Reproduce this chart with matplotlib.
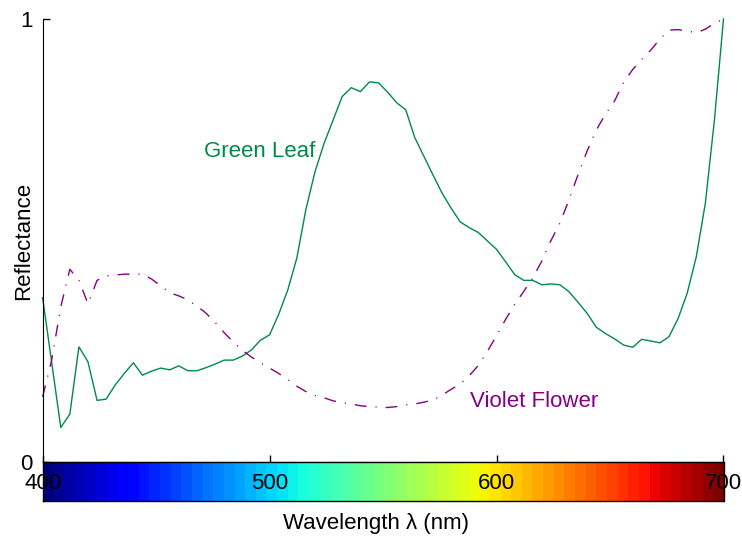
import matplotlib
matplotlib.use('Agg')
import matplotlib.pyplot as plt
import matplotlib.transforms as mtransforms
import numpy as np

plt.rcParams['font.family'] = ['Liberation Sans', 'DejaVu Sans']

# spectra sampled every 4 nm, 400..700 nm
wavelength = np.arange(400, 701, 4)

green_leaf = [
    0.371, 0.225, 0.078, 0.108, 0.260, 0.226, 0.139, 0.142, 0.174, 0.200,
    0.224, 0.196, 0.205, 0.212, 0.208, 0.217, 0.206, 0.206, 0.213, 0.221,
    0.230, 0.230, 0.239, 0.253, 0.275, 0.287, 0.333, 0.388, 0.460, 0.570,
    0.655, 0.719, 0.772, 0.825, 0.845, 0.836, 0.858, 0.856, 0.835, 0.811,
    0.795, 0.732, 0.690, 0.648, 0.607, 0.573, 0.542, 0.529, 0.518, 0.499,
    0.480, 0.452, 0.423, 0.410, 0.410, 0.400, 0.402, 0.400, 0.384, 0.360,
    0.335, 0.304, 0.290, 0.278, 0.264, 0.259, 0.277, 0.273, 0.269, 0.283,
    0.324, 0.381, 0.463, 0.584, 0.772, 1.000,
]

violet_flower = [
    0.147, 0.230, 0.350, 0.435, 0.410, 0.357, 0.410, 0.420, 0.422, 0.424,
    0.424, 0.424, 0.413, 0.398, 0.382, 0.375, 0.366, 0.352, 0.336, 0.315,
    0.292, 0.271, 0.252, 0.237, 0.224, 0.212, 0.200, 0.186, 0.171, 0.159,
    0.150, 0.145, 0.138, 0.134, 0.131, 0.127, 0.125, 0.124, 0.123, 0.125,
    0.129, 0.131, 0.135, 0.140, 0.151, 0.164, 0.176, 0.195, 0.218, 0.250,
    0.285, 0.322, 0.356, 0.385, 0.416, 0.454, 0.500, 0.540, 0.593, 0.650,
    0.703, 0.750, 0.785, 0.815, 0.857, 0.886, 0.909, 0.930, 0.955, 0.975,
    0.976, 0.973, 0.969, 0.977, 0.990, 1.000,
]

x_ticks = [400, 500, 600, 700]
y_ticks = [0, 1]

GREEN = '#008a48'
VIOLET = '#860086'
FS = 16

W, H = 742, 538
fig = plt.figure(figsize=(W / 100, H / 100), dpi=100)

left, right = 42.6, 723.5
ax = fig.add_axes([left / W, 1 - 462 / H, (right - left) / W, (462 - 19) / H])
cax = fig.add_axes([left / W, 1 - 501 / H, (right - left) / W, 39 / H])

# reflectance curves
ax.plot(wavelength, green_leaf, color=GREEN, lw=1.0, clip_on=False)
ax.plot(wavelength, violet_flower, color=VIOLET, lw=1.0, clip_on=False,
        dashes=(8.5, 6.5, 0.8, 6.5))

ax.text(471, 0.689, 'Green Leaf', color=GREEN, fontsize=FS, ha='left', va='baseline')
ax.text(588.3, 0.125, 'Violet Flower', color=VIOLET, fontsize=FS, ha='left', va='baseline')

ax.set_xlim(x_ticks[0], x_ticks[-1])
ax.set_ylim(0, 1)
ax.spines['top'].set_visible(False)
ax.spines['right'].set_visible(False)
ax.set_xticks(x_ticks)
ax.set_xticklabels([])
ax.set_yticks(y_ticks)
ax.set_yticklabels([str(v) for v in y_ticks], fontsize=FS)
ax.tick_params(direction='in', length=5, width=1, pad=7)
ax.set_ylabel('Reflectance', fontsize=FS)
ax.yaxis.set_label_coords(-0.013, 0.5)

# spectrum strip under the plot (64-step jet)
jet64 = plt.get_cmap('jet', 64)
cax.imshow(np.arange(64)[None, :], cmap=jet64, aspect='auto',
           extent=[x_ticks[0], x_ticks[-1], 0, 1], interpolation='nearest')
cax.set_xlim(x_ticks[0], x_ticks[-1])
cax.set_ylim(0, 1)
cax.set_xticks([])
cax.set_yticks([])
for s in cax.spines.values():
    s.set_linewidth(1.0)

trans = mtransforms.blended_transform_factory(cax.transData, cax.transAxes)
for t in x_ticks:
    cax.text(t, 0.5, str(t), transform=trans, fontsize=FS,
             ha='center', va='center_baseline', clip_on=False)

cax.set_xlabel('Wavelength λ (nm)', fontsize=FS)
cax.xaxis.set_label_coords(0.49, -0.3)

plt.savefig('out.png', dpi=100)
plt.close()
